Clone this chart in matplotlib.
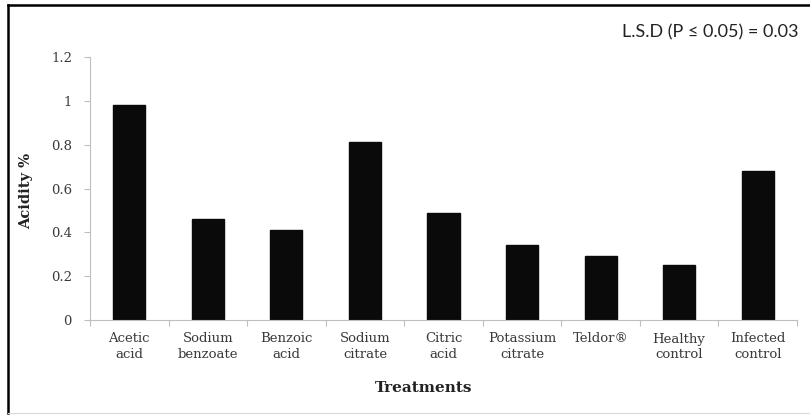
import matplotlib
matplotlib.use("Agg")
import matplotlib.pyplot as plt
import numpy as np
from matplotlib.lines import Line2D

categories = ["Acetic\nacid", "Sodium\nbenzoate", "Benzoic\nacid", "Sodium\ncitrate",
              "Citric\nacid", "Potassium\ncitrate", "Teldor®", "Healthy\ncontrol", "Infected\ncontrol"]
acidity = [0.98, 0.46, 0.41, 0.81, 0.49, 0.34, 0.29, 0.25, 0.68]
yticks = [0, 0.2, 0.4, 0.6, 0.8, 1, 1.2]
yticklabels = ["0", "0.2", "0.4", "0.6", "0.8", "1", "1.2"]

W, H = 810, 416
fig = plt.figure(figsize=(W/100, H/100), dpi=100)
ax = fig.add_axes([90/W, 96/H, (797-90)/W, (320-57)/H])

x = np.arange(len(categories))
ax.bar(x, acidity, width=0.41, color="#0a0a0a", edgecolor="#0a0a0a")
ax.set_xlim(-0.5, len(categories) - 0.5)
ax.set_ylim(0, 1.2)

serif = ["DejaVu Serif"]
ax.set_yticks(yticks)
ax.set_yticklabels(yticklabels, family=serif, fontsize=9.5, color="#3a3a3a")
ax.set_xticks(x)
ax.set_xticklabels(categories, family=serif, fontsize=9.5, color="#3a3a3a", linespacing=1.2)
ax.set_xticks(np.arange(-0.5, len(categories), 1), minor=True)
ax.tick_params(axis="x", which="major", length=0, pad=9)
ax.tick_params(axis="x", which="minor", length=4, color="#bfbfbf", width=0.8)
ax.tick_params(axis="y", length=4, color="#bfbfbf", width=0.8, pad=9)

for s in ["top", "right"]:
    ax.spines[s].set_visible(False)
for s in ["left", "bottom"]:
    ax.spines[s].set_color("#bfbfbf")
    ax.spines[s].set_linewidth(0.8)

ax.set_ylabel("Acidity %", family=serif, fontsize=10.5, fontweight="bold", color="#222222")
ax.yaxis.set_label_coords(-57/707, 0.49)
fig.text(424/W, 1 - 388/H, "Treatments", family=serif, fontsize=11, fontweight="bold",
         ha="center", va="center", color="#222222")
fig.text(798/W, 1 - 32/H, "L.S.D (P ≤ 0.05) = 0.03", family=["Lato", "DejaVu Sans"],
         fontsize=13, ha="right", va="center", color="#222222")

# figure border
fig.add_artist(Line2D([8/W, 8/W], [1 - 413/H, 1 - 5/H], transform=fig.transFigure,
                      color="black", linewidth=1.8))
fig.add_artist(Line2D([8/W, 1.0], [1 - 5/H, 1 - 5/H], transform=fig.transFigure,
                      color="black", linewidth=1.8))
fig.add_artist(Line2D([8/W, 1.0], [1 - 413/H, 1 - 413/H], transform=fig.transFigure,
                      color="#d9d9d9", linewidth=0.8))

fig.savefig("out.png", dpi=100)
